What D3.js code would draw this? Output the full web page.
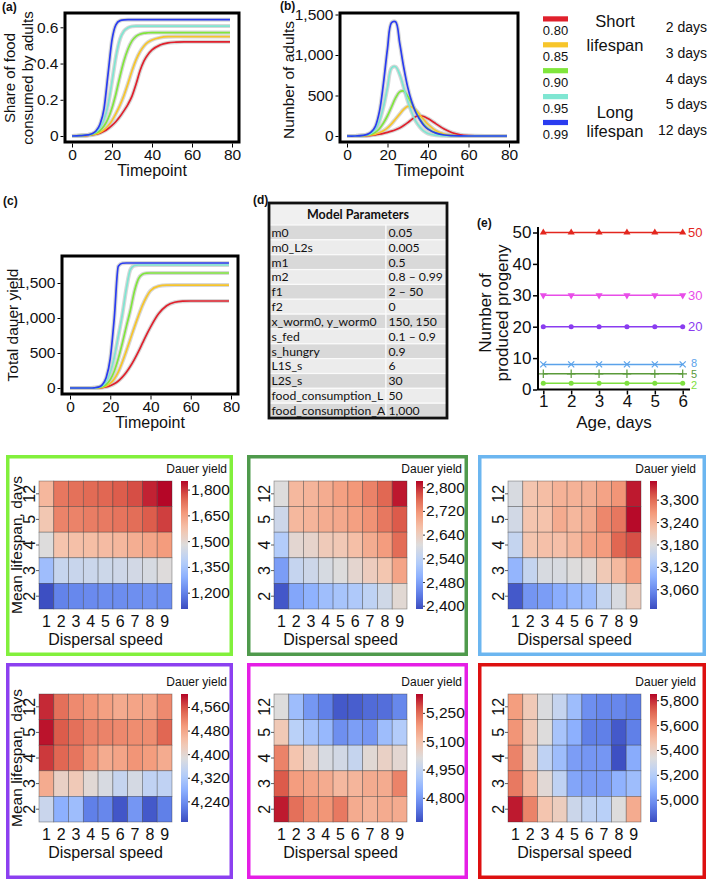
<!DOCTYPE html>
<html><head><meta charset="utf-8">
<script src="https://cdn.jsdelivr.net/npm/d3@7"></script>
<style>
body{margin:0;background:#fff}
svg{display:block}
text{font-family:"Liberation Sans",Arial,sans-serif;fill:#111}
</style>
</head><body>
<svg id="fig" width="709" height="882"></svg>
<script>
// ===================== DATA =====================
const timepoints = [0,4,8,10,12,14,16,18,20,22,24,26,28,30,32,34,36,38,40,44,48,52,56,60,70,79];
const timeTicks = [0,20,40,60,80];
const survivalLabels = ["0.80","0.85","0.90","0.95","0.99"];
const lifespanDayLabels = ["2 days","3 days","4 days","5 days","12 days"];

// (a) share of food consumed by adults
const share_080 = [0,0.001,0.003,0.006,0.01,0.016,0.026,0.04,0.058,0.08,0.107,0.14,0.175,0.22,0.285,0.36,0.415,0.45,0.475,0.502,0.514,0.518,0.52,0.52,0.52,0.52];
const share_085 = [0,0.002,0.004,0.007,0.012,0.02,0.034,0.055,0.085,0.125,0.17,0.225,0.29,0.36,0.42,0.465,0.497,0.518,0.53,0.543,0.548,0.549,0.549,0.549,0.549,0.549];
const share_090 = [0,0.002,0.005,0.009,0.017,0.03,0.055,0.095,0.155,0.235,0.33,0.415,0.48,0.525,0.55,0.562,0.568,0.57,0.571,0.571,0.571,0.571,0.571,0.571,0.571,0.571];
const share_095 = [0,0.002,0.006,0.011,0.022,0.045,0.09,0.17,0.3,0.44,0.535,0.58,0.598,0.605,0.607,0.607,0.607,0.607,0.607,0.607,0.607,0.607,0.607,0.607,0.607,0.607];
const share_099 = [0,0.002,0.006,0.012,0.028,0.065,0.15,0.34,0.53,0.615,0.637,0.641,0.642,0.642,0.642,0.642,0.642,0.642,0.642,0.642,0.642,0.642,0.642,0.642,0.642,0.642];
const shareTicks = [0,0.2,0.4,0.6];

// (b) number of adults
const adults_080 = [0,0,2,4,8,14,22,32,45,60,78,100,130,165,205,240,250,240,215,150,85,40,15,5,0,0];
const adults_085 = [0,0,3,6,12,22,40,65,100,150,210,270,330,365,360,320,260,200,145,65,25,8,2,0,0,0];
const adults_090 = [0,0,5,10,22,45,90,160,250,360,470,545,555,490,400,300,210,140,90,35,12,4,1,0,0,0];
const adults_095 = [0,0,6,15,35,80,180,360,600,840,855,760,600,430,290,180,110,60,30,8,2,0,0,0,0,0];
const adults_099 = [0,0,8,20,50,120,300,650,1080,1400,1410,1150,850,600,420,290,200,130,85,35,12,4,1,0,0,0];
const adultTicks = [0,500,1000,1500];

// (c) total dauer yield
const dauer_080 = [0,0,0,0,0,2,6,15,32,60,100,155,225,310,410,520,640,760,870,1060,1175,1225,1240,1243,1243,1243];
const dauer_085 = [0,0,0,0,1,3,10,28,65,130,230,370,530,700,870,1030,1180,1300,1390,1455,1469,1471,1471,1471,1471,1471];
const dauer_090 = [0,0,0,0,1,5,18,50,120,240,420,640,880,1110,1380,1560,1625,1640,1643,1643,1643,1643,1643,1643,1643,1643];
const dauer_095 = [0,0,0,0,2,8,30,90,220,440,740,1050,1420,1690,1750,1757,1757,1757,1757,1757,1757,1757,1757,1757,1757,1757];
const dauer_099 = [0,0,0,0,3,12,45,150,420,1000,1740,1782,1786,1786,1786,1786,1786,1786,1786,1786,1786,1786,1786,1786,1786,1786];
const dauerTicks = [0,500,1000,1500];

// (d) model parameters
const paramNames = ["m0","m0_L2s","m1","m2","f1","f2","x_worm0, y_worm0","s_fed","s_hungry","L1S_s","L2S_s","food_consumption_L","food_consumption_A"];
const paramValues = ["0.05","0.005","0.5","0.8 \u2013 0.99","2 \u2013 50","0","150, 150","0.1 \u2013 0.9","0.9","6","30","50","1,000"];

// (e) progeny per age
const ages = [1,2,3,4,5,6];
const progeny_f1_50 = [50,50,50,50,50,50];
const progeny_f1_30 = [30,30,30,30,30,30];
const progeny_f1_20 = [20,20,20,20,20,20];
const progeny_f1_8 = [8,8,8,8,8,8];
const progeny_f1_5 = [5,5,5,5,5,5];
const progeny_f1_2 = [2,2,2,2,2,2];
const progenyTicks = [0,10,20,30,40,50];

// heatmaps: rows = mean lifespan (12,5,4,3,2), cols = dispersal speed 1..9
const dispersalSpeeds = [1,2,3,4,5,6,7,8,9];
const lifespanRows = ["12","5","4","3","2"];
const yield_f1_2 = [
  [1600,1720,1730,1740,1745,1760,1775,1820,1848],
  [1560,1700,1700,1710,1715,1725,1735,1760,1790],
  [1478,1570,1580,1585,1590,1600,1620,1640,1660],
  [1330,1420,1425,1430,1435,1440,1450,1460,1480],
  [1110,1200,1210,1215,1220,1220,1225,1230,1225]];
const yield_f1_5 = [
  [2605,2675,2680,2690,2705,2715,2735,2760,2810],
  [2580,2675,2680,2690,2695,2705,2720,2745,2770],
  [2545,2618,2625,2645,2650,2665,2690,2710,2755],
  [2475,2570,2580,2595,2605,2620,2640,2655,2700],
  [2400,2485,2500,2520,2530,2540,2560,2585,2615]];
const yield_f1_8 = [
  [3172,3220,3228,3240,3240,3243,3255,3268,3340],
  [3165,3220,3222,3247,3235,3248,3278,3290,3347],
  [3150,3220,3225,3226,3235,3255,3262,3302,3315],
  [3100,3150,3172,3172,3178,3182,3213,3233,3262],
  [3017,3068,3075,3090,3103,3110,3150,3172,3206]];
const yield_f1_20 = [
  [4582,4535,4510,4500,4488,4475,4482,4482,4510],
  [4595,4552,4535,4518,4517,4512,4508,4508,4543],
  [4573,4543,4530,4500,4474,4482,4500,4492,4474],
  [4474,4413,4430,4396,4378,4352,4374,4344,4344],
  [4357,4278,4300,4222,4230,4180,4248,4183,4222]];
const yield_f1_30 = [
  [5011,4875,4795,4755,4692,4700,4720,4726,4767],
  [5079,4930,4889,4862,4780,4808,4794,4875,4916],
  [5214,5092,5052,4997,4984,4957,5025,5052,5031],
  [5270,5174,5160,5147,5120,5126,5147,5147,5214],
  [5330,5242,5200,5187,5228,5147,5133,5147,5147]];
const yield_f1_50 = [
  [5582,5438,5325,5253,5130,4985,4964,4964,4944],
  [5603,5438,5335,5160,5078,4944,4944,4851,4944],
  [5644,5417,5232,5130,5026,5005,5005,4830,5067],
  [5665,5500,5356,5232,5047,5026,5026,5088,5130],
  [5820,5644,5459,5417,5273,5232,5211,5335,5541]];

const cbDomain_f1_2 = [1105,1850];  const cbTicks_f1_2 = [1200,1350,1500,1650,1800];
const cbLabels_f1_2 = ["1,200","1,350","1,500","1,650","1,800"];
const cbDomain_f1_5 = [2389,2821];  const cbTicks_f1_5 = [2400,2480,2560,2640,2720,2800];
const cbLabels_f1_5 = ["2,400","2,480","2,540","2,640","2,720","2,800"];
const cbDomain_f1_8 = [3007,3350];  const cbTicks_f1_8 = [3060,3120,3180,3240,3300];
const cbLabels_f1_8 = ["3,060","3,120","3,180","3,240","3,300"];
const cbDomain_f1_20 = [4170,4604]; const cbTicks_f1_20 = [4240,4320,4400,4480,4560];
const cbLabels_f1_20 = ["4,240","4,320","4,400","4,480","4,560"];
const cbDomain_f1_30 = [4672,5350]; const cbTicks_f1_30 = [4800,4950,5100,5250];
const cbLabels_f1_30 = ["4,800","4,950","5,100","5,250"];
const cbDomain_f1_50 = [4821,5850]; const cbTicks_f1_50 = [5000,5200,5400,5600,5800];
const cbLabels_f1_50 = ["5,000","5,200","5,400","5,600","5,800"];

// ===================== STYLE =====================
const seriesColors = ["#e0202c","#f7c52a","#80e63c","#7fe6d2","#2a3cf0"];
const coolwarmStops = ["#3b4cc0","#6282ea","#8db0fe","#b8d0f9","#dddcdc","#f5c4ad","#f49a7b","#de604d","#b40426"];
const coolwarm = d3.piecewise(d3.interpolateRgb, coolwarmStops);
const SANS = '"Liberation Sans",Arial,sans-serif';
const TABLEFONT = "Lato, 'Open Sans', sans-serif";

const svg = d3.select("#fig");

function panelLabel(txt, x, y){
  svg.append("text").attr("x",x).attr("y",y).attr("font-size",12).attr("font-weight","bold").text(txt);
}

// ============ line panels a,b,c ============
function linePanel(o){
  const g = svg.append("g");
  const x = d3.scaleLinear().domain([0,80]).range(o.xr);
  const y = d3.scaleLinear().domain(o.yd).range(o.yr);
  const line = d3.line().x((d,i)=>x(timepoints[i])).y(d=>y(d)).curve(o.curve);
  o.series.forEach(s=>{
    g.append("path").attr("d",line(s)).attr("fill","none").attr("stroke","#c9c9c9").attr("stroke-width",4).attr("stroke-opacity",0.75);
  });
  o.series.forEach((s,k)=>{
    g.append("path").attr("d",line(s)).attr("fill","none").attr("stroke",seriesColors[k]).attr("stroke-width",1.7);
  });
  g.append("rect").attr("x",o.fx0).attr("y",o.fy0).attr("width",o.fx1-o.fx0).attr("height",o.fy1-o.fy0)
    .attr("fill","none").attr("stroke","#000").attr("stroke-width",3);
  const ax = g.append("g").attr("transform",`translate(0,${o.fy1+1.5})`)
    .call(d3.axisBottom(x).tickValues(timeTicks).tickSize(4).tickPadding(1.5).tickFormat(d3.format("d")));
  const ay = g.append("g").attr("transform",`translate(${o.fx0-1.5},0)`)
    .call(d3.axisLeft(y).tickValues(o.yticks).tickSize(3).tickPadding(2).tickFormat(o.yfmt));
  [ax,ay].forEach(a=>{a.select(".domain").remove(); a.selectAll("text").attr("font-size",15.5).attr("fill","#111").style("font-family",SANS); a.selectAll("line").attr("stroke","#000");});
  g.append("text").attr("x",(o.fx0+o.fx1)/2).attr("y",o.fy1+34).attr("text-anchor","middle").attr("font-size",16).text("Timepoint");
  o.ytitle.forEach((t,i)=>{
    g.append("text").attr("transform",`translate(${o.ytx[i]},${o.yty}) rotate(-90)`).attr("text-anchor","middle")
      .attr("dy","0.35em").attr("font-size",o.ytfs).text(t);
  });
}
const fmtShare = d => d===0 ? "0" : d3.format(".1f")(d);
linePanel({xr:[72,232], yd:[0,0.6], yr:[136,27.3], fx0:65, fx1:239, fy0:13, fy1:142, curve:d3.curveMonotoneX,
  series:[share_080,share_085,share_090,share_095,share_099], yticks:shareTicks, yfmt:fmtShare,
  ytitle:["Share of food","consumed by adults"], ytx:[10,28], yty:78, ytfs:15});
linePanel({xr:[347,509], yd:[0,1500], yr:[136,14.5], fx0:340, fx1:518, fy0:13, fy1:142, curve:d3.curveCatmullRom.alpha(0.5),
  series:[adults_080,adults_085,adults_090,adults_095,adults_099], yticks:adultTicks, yfmt:d3.format(","),
  ytitle:["Number of adults"], ytx:[289], yty:80, ytfs:15.5});
linePanel({xr:[70,231], yd:[0,1500], yr:[388,283], fx0:62, fx1:238, fy0:256, fy1:394, curve:d3.curveMonotoneX,
  series:[dauer_080,dauer_085,dauer_090,dauer_095,dauer_099], yticks:dauerTicks, yfmt:d3.format(","),
  ytitle:["Total dauer yield"], ytx:[13], yty:325, ytfs:15.5});
panelLabel("(a)",2,11); panelLabel("(b)",280,10); panelLabel("(c)",3,205); panelLabel("(d)",253,204); panelLabel("(e)",477,227);

// ============ legend ============
const lg = svg.append("g");
const legY = d3.scaleBand().domain(survivalLabels).range([16.3,16.3+5*25.9]);
survivalLabels.forEach((s,i)=>{
  lg.append("rect").attr("x",543).attr("y",legY(s)).attr("width",25).attr("height",5.2).attr("fill",seriesColors[i]);
  lg.append("text").attr("x",555.5).attr("y",legY(s)+14.5).attr("dy","0.35em").attr("text-anchor","middle").attr("font-size",13).text(s);
  lg.append("text").attr("x",707).attr("y",legY(s)+10.5).attr("dy","0.35em").attr("text-anchor","end").attr("font-size",14).text(lifespanDayLabels[i]);
});
[["Short",21],["lifespan",45],["Long",112],["lifespan",131]].forEach(([t,yy])=>{
  lg.append("text").attr("x",615).attr("y",yy).attr("dy","0.35em").attr("text-anchor","middle").attr("font-size",16.5).text(t);
});

// ============ table (d) ============
const tg = svg.append("g");
const tX0=269, tX1=447, tY0=203, headH=22, colX=386, rowH=14.85;
const rowY = d3.scaleBand().domain(paramNames).range([tY0+headH, tY0+headH+paramNames.length*rowH]);
tg.append("rect").attr("x",tX0).attr("y",tY0).attr("width",tX1-tX0).attr("height",headH).attr("fill","#f0f0f0");
paramNames.forEach((p,i)=>{
  const fill = i%2===0 ? "#d9d9d9" : "#ececec";
  [[tX0,colX],[colX,tX1]].forEach(([a,b])=>{
    tg.append("rect").attr("x",a).attr("y",rowY(p)).attr("width",b-a).attr("height",rowY.bandwidth()).attr("fill",fill).attr("stroke","#fafafa").attr("stroke-width",1.2);
  });
  tg.append("text").attr("x",tX0+2.5).attr("y",rowY(p)+rowY.bandwidth()/2).attr("dy","0.36em").attr("font-size",12.2).style("font-family",TABLEFONT).text(p);
  tg.append("text").attr("x",colX+2.5).attr("y",rowY(p)+rowY.bandwidth()/2).attr("dy","0.36em").attr("font-size",12.2).style("font-family",TABLEFONT).text(paramValues[i]);
});
tg.append("text").attr("x",(tX0+tX1)/2).attr("y",tY0+headH/2+1).attr("dy","0.35em").attr("text-anchor","middle").attr("font-size",12.5).attr("font-weight","bold").style("font-family",TABLEFONT).text("Model Parameters");
const tBottom = tY0+headH+paramNames.length*rowH;
tg.append("rect").attr("x",tX0).attr("y",tY0).attr("width",tX1-tX0).attr("height",tBottom-tY0).attr("fill","none").attr("stroke","#111").attr("stroke-width",2.8);

// ============ panel (e) ============
const eg = svg.append("g");
const ex = d3.scaleLinear().domain([1,6]).range([543.3,682.7]);
const ey = d3.scaleLinear().domain([0,50]).range([389.5,232.5]);
const symTimes = d3.symbolTimes || d3.symbolX || d3.symbolCross;
const symPlus = d3.symbolPlus || d3.symbolCross;
const progenySeries = [
  {v:progeny_f1_50, c:"#e3261e", m:"triUp", lab:"50", dy:0},
  {v:progeny_f1_30, c:"#e84de8", m:"triDown", lab:"30", dy:0},
  {v:progeny_f1_20, c:"#8a3cf0", m:"circle", lab:"20", dy:0},
  {v:progeny_f1_8,  c:"#5aa2ea", m:"times", lab:"8", dy:-1.5},
  {v:progeny_f1_5,  c:"#5a9a3a", m:"plus", lab:"5", dy:0},
  {v:progeny_f1_2,  c:"#7ee040", m:"circle", lab:"2", dy:1.5}];
const eLine = d3.line().x((d,i)=>ex(ages[i])).y(d=>ey(d));
progenySeries.forEach(s=>{
  eg.append("path").attr("d",eLine(s.v)).attr("fill","none").attr("stroke",s.c).attr("stroke-width",1.5);
  s.v.forEach((d,i)=>{
    const p = eg.append("path").attr("transform",`translate(${ex(ages[i])},${ey(d)})${s.m==="triDown"?" rotate(180)":""}`);
    if (s.m==="times") p.attr("d",d3.symbol(symTimes,26)()).attr("fill","none").attr("stroke",s.c).attr("stroke-width",1.2);
    else if (s.m==="plus") p.attr("d",d3.symbol(symPlus,26)()).attr("fill","none").attr("stroke",s.c).attr("stroke-width",1.2);
    else if (s.m==="circle") p.attr("d",d3.symbol(d3.symbolCircle,20)()).attr("fill",s.c);
    else p.attr("d",d3.symbol(d3.symbolTriangle,22)()).attr("fill",s.c);
  });
  const one = s.lab.length===1;
  eg.append("text").attr("x",one?691:688).attr("y",ey(s.v[5])+s.dy).attr("dy","0.35em").attr("font-size",one?11:13).style("fill",s.c).text(s.lab);
});
eg.append("line").attr("x1",538).attr("x2",538).attr("y1",389.5).attr("y2",227).attr("stroke","#000").attr("stroke-width",2);
eg.append("line").attr("x1",537).attr("x2",690).attr("y1",389.5).attr("y2",389.5).attr("stroke","#000").attr("stroke-width",2);
const eay = eg.append("g").attr("transform","translate(537,0)").call(d3.axisLeft(ey).tickValues(progenyTicks).tickSize(4).tickPadding(1.5).tickFormat(d3.format("d")));
const eax = eg.append("g").attr("transform","translate(0,390.5)").call(d3.axisBottom(ex).tickValues(ages).tickSize(4).tickPadding(0).tickFormat(d3.format("d")));
[eax,eay].forEach(a=>{a.select(".domain").remove(); a.selectAll("text").attr("font-size",17).attr("fill","#111").style("font-family",SANS); a.selectAll("line").attr("stroke","#000").attr("stroke-width",1.5);});
eg.append("text").attr("x",614).attr("y",422).attr("dy","0.35em").attr("text-anchor","middle").attr("font-size",17).text("Age, days");
[["Number of",485],["produced progeny",502]].forEach(([t,xx])=>{
  eg.append("text").attr("transform",`translate(${xx},313) rotate(-90)`).attr("dy","0.35em").attr("text-anchor","middle").attr("font-size",17).text(t);
});

// ============ heatmaps ============
const defs = svg.append("defs");
const GW = 133, GH = 128;
function heatmap(o, idx){
  const g = svg.append("g");
  g.append("rect").attr("x",o.bx+1.75).attr("y",o.by+1.75).attr("width",o.bw-3.5).attr("height",o.bh-3.5)
    .attr("fill","#fff").attr("stroke",o.border).attr("stroke-width",3.5);
  const x = d3.scaleBand().domain(dispersalSpeeds).range([o.gx,o.gx+GW]);
  const y = d3.scaleBand().domain(lifespanRows).range([o.gy,o.gy+GH]);
  const color = d3.scaleSequential(coolwarm).domain(o.domain);
  const cells = [];
  o.values.forEach((row,i)=>row.forEach((v,j)=>cells.push({r:lifespanRows[i],c:dispersalSpeeds[j],v})));
  g.selectAll("rect.cell").data(cells).join("rect").attr("class","cell")
    .attr("x",d=>x(d.c)).attr("y",d=>y(d.r)).attr("width",x.bandwidth()).attr("height",y.bandwidth())
    .attr("fill",d=>color(d.v)).attr("stroke","rgba(50,50,50,0.5)").attr("stroke-width",0.7);
  dispersalSpeeds.forEach(s=>{
    g.append("text").attr("x",x(s)+x.bandwidth()/2).attr("y",o.gy+GH+12).attr("dy","0.35em").attr("text-anchor","middle").attr("font-size",16).text(s);
  });
  g.append("text").attr("x",o.gx+GW/2).attr("y",o.gy+GH+30).attr("dy","0.35em").attr("text-anchor","middle").attr("font-size",16).text("Dispersal speed");
  lifespanRows.forEach(r=>{
    const yc = y(r)+y.bandwidth()/2;
    g.append("line").attr("x1",o.gx-3).attr("x2",o.gx).attr("y1",yc).attr("y2",yc).attr("stroke","#333").attr("stroke-width",0.8);
    g.append("text").attr("transform",`translate(${o.gx-10},${yc}) rotate(-90)`).attr("dy","0.35em").attr("text-anchor","middle").attr("font-size",16).text(r);
  });
  if (o.ytitle) g.append("text").attr("transform",`translate(${o.bx+10.5},${o.gy+GH/2}) rotate(-90)`).attr("dy","0.35em").attr("text-anchor","middle").attr("font-size",15.5).text("Mean lifespan, days");
  const gid = "cb"+idx;
  const grad = defs.append("linearGradient").attr("id",gid).attr("x1",0).attr("y1",1).attr("x2",0).attr("y2",0);
  d3.range(0,1.0001,0.05).forEach(t=>grad.append("stop").attr("offset",t).attr("stop-color",coolwarm(t)));
  const cbx = o.gx+GW+9;
  g.append("rect").attr("x",cbx).attr("y",o.gy).attr("width",7).attr("height",GH).attr("fill",`url(#${gid})`);
  const cs = d3.scaleLinear().domain(o.domain).range([o.gy+GH,o.gy]);
  const ca = g.append("g").attr("transform",`translate(${cbx+7},0)`)
    .call(d3.axisRight(cs).tickValues(o.ticks).tickSize(2).tickPadding(1).tickFormat((d,i)=>o.labels[i]));
  ca.select(".domain").remove();
  ca.selectAll("text").attr("font-size",15.5).attr("fill","#111").style("font-family",SANS);
  ca.selectAll("line").attr("stroke","#333");
  g.append("text").attr("x",cbx+46).attr("y",o.gy-12).attr("dy","0.35em").attr("text-anchor","end").attr("font-size",12).text("Dauer yield");
}
const topRow = {by:455, bh:201, gy:481};
const botRow = {by:663, bh:216, gy:694};
const cols = [{bx:6,bw:227,gx:39},{bx:247,bw:221,gx:274},{bx:478,bw:228,gx:508}];
const hms = [
  {row:topRow,col:cols[0],border:"#82f03c",values:yield_f1_2,domain:cbDomain_f1_2,ticks:cbTicks_f1_2,labels:cbLabels_f1_2,ytitle:true},
  {row:topRow,col:cols[1],border:"#4f9a4c",values:yield_f1_5,domain:cbDomain_f1_5,ticks:cbTicks_f1_5,labels:cbLabels_f1_5},
  {row:topRow,col:cols[2],border:"#6cb6f0",values:yield_f1_8,domain:cbDomain_f1_8,ticks:cbTicks_f1_8,labels:cbLabels_f1_8},
  {row:botRow,col:cols[0],border:"#8c40f0",values:yield_f1_20,domain:cbDomain_f1_20,ticks:cbTicks_f1_20,labels:cbLabels_f1_20,ytitle:true},
  {row:botRow,col:cols[1],border:"#e51ee5",values:yield_f1_30,domain:cbDomain_f1_30,ticks:cbTicks_f1_30,labels:cbLabels_f1_30},
  {row:botRow,col:cols[2],border:"#dd1010",values:yield_f1_50,domain:cbDomain_f1_50,ticks:cbTicks_f1_50,labels:cbLabels_f1_50}];
hms.forEach((h,i)=>heatmap(Object.assign({},h.row,h.col,h),i));
</script>
</body></html>
